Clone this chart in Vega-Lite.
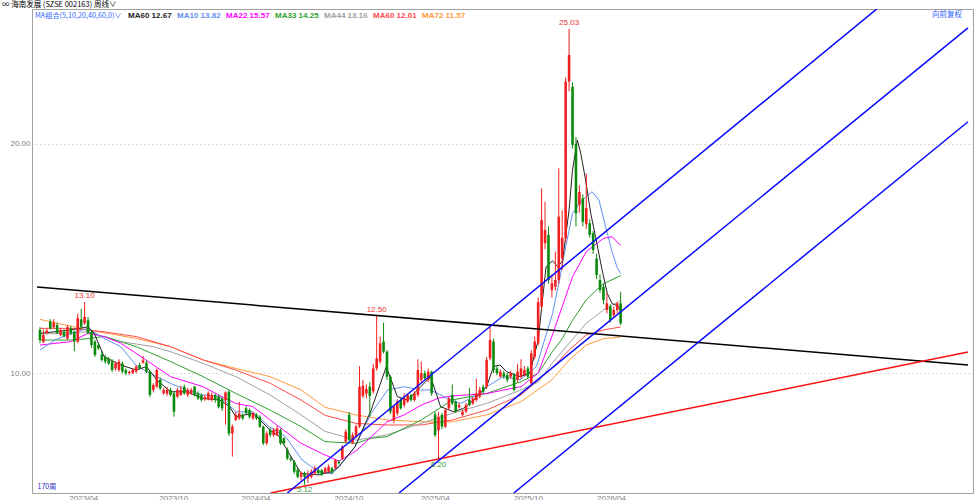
{
"$schema": "https://vega.github.io/schema/vega-lite/v6.json",
"width": 941, "height": 484,
"autosize": {"type": "none"},
"padding": {"left": 32, "top": 9, "right": 6, "bottom": 7},
"background": "#ffffff",
"config": {"view": {"stroke": "#a0a0a0", "strokeWidth": 1}, "font": "Liberation Sans",
"axisX": {"labelColor": "#808080", "labelFontSize": 8, "ticks": false, "domain": false, "grid": false, "labelPadding": 1, "labelAlign": "left", "labelFlush": false, "labelOverlap": false},
"axisY": {"labelColor": "#808080", "labelFontSize": 8, "ticks": false, "domain": false, "grid": true, "gridColor": "#b8b8b8", "gridDash": [1, 3], "labelPadding": 2}},
"title": {"text": "∞ 海南发展   (SZSE 002163)    周线∨", "anchor": "start", "frame": "group", "dx": -30, "offset": 0.5, "fontSize": 7.5, "font": "Noto Sans CJK SC", "fontWeight": "normal", "color": "#000000"},
"datasets": {
"candles": [
{"i":0,"o":11.88,"h":12.0,"l":11.3,"c":11.44},{"i":1,"o":11.35,"h":11.9,"l":11.3,"c":11.66},{"i":2,"o":11.75,"h":11.95,"l":11.7,"c":11.85},{"i":3,"o":12.24,"h":12.35,"l":11.9,"c":11.95},{"i":4,"o":12.0,"h":12.35,"l":11.95,"c":12.2},{"i":5,"o":12.1,"h":12.2,"l":11.7,"c":11.75},{"i":6,"o":11.66,"h":11.95,"l":11.6,"c":11.88},{"i":7,"o":11.8,"h":11.9,"l":11.55,"c":11.6},{"i":8,"o":11.5,"h":12.1,"l":11.45,"c":12.0},{"i":9,"o":11.95,"h":12.05,"l":11.65,"c":11.73},
{"i":10,"o":11.8,"h":11.85,"l":10.95,"c":11.37},{"i":11,"o":11.37,"h":12.6,"l":11.3,"c":12.4},{"i":12,"o":12.34,"h":12.8,"l":11.95,"c":12.02},{"i":13,"o":12.17,"h":13.1,"l":12.1,"c":12.45},{"i":14,"o":12.3,"h":12.45,"l":11.7,"c":11.73},{"i":15,"o":11.8,"h":11.85,"l":11.1,"c":11.22},{"i":16,"o":11.37,"h":11.45,"l":10.7,"c":10.79},{"i":17,"o":11.22,"h":11.3,"l":11.0,"c":11.08},{"i":18,"o":10.8,"h":10.95,"l":10.5,"c":10.57},{"i":19,"o":10.7,"h":10.8,"l":10.4,"c":10.5},
{"i":20,"o":10.62,"h":10.7,"l":10.35,"c":10.42},{"i":21,"o":10.5,"h":10.6,"l":10.05,"c":10.13},{"i":22,"o":10.2,"h":10.5,"l":10.1,"c":10.42},{"i":23,"o":10.13,"h":10.6,"l":10.05,"c":10.5},{"i":24,"o":10.42,"h":10.5,"l":9.98,"c":10.06},{"i":25,"o":10.13,"h":10.2,"l":9.9,"c":9.99},{"i":26,"o":10.0,"h":10.1,"l":9.92,"c":10.05},{"i":27,"o":10.0,"h":10.2,"l":9.95,"c":10.13},{"i":28,"o":10.06,"h":10.35,"l":10.0,"c":10.28},{"i":29,"o":10.35,"h":10.45,"l":10.15,"c":10.2},
{"i":30,"o":10.45,"h":10.75,"l":10.4,"c":10.55},{"i":31,"o":10.45,"h":10.55,"l":10.0,"c":10.06},{"i":32,"o":10.06,"h":10.1,"l":8.95,"c":9.04},{"i":33,"o":9.26,"h":9.55,"l":9.15,"c":9.48},{"i":34,"o":9.4,"h":10.2,"l":9.35,"c":10.13},{"i":35,"o":9.7,"h":9.8,"l":9.25,"c":9.33},{"i":36,"o":9.11,"h":9.35,"l":9.05,"c":9.26},{"i":37,"o":9.1,"h":9.4,"l":9.0,"c":9.26},{"i":38,"o":9.26,"h":9.35,"l":8.98,"c":9.04},{"i":39,"o":9.11,"h":9.2,"l":8.09,"c":8.31},
{"i":40,"o":8.97,"h":9.35,"l":8.9,"c":9.26},{"i":41,"o":9.04,"h":9.45,"l":9.0,"c":9.26},{"i":42,"o":9.4,"h":9.5,"l":9.05,"c":9.11},{"i":43,"o":9.04,"h":9.35,"l":8.95,"c":9.26},{"i":44,"o":9.11,"h":9.35,"l":9.05,"c":9.26},{"i":45,"o":9.4,"h":9.45,"l":8.98,"c":9.04},{"i":46,"o":9.11,"h":9.2,"l":8.82,"c":8.89},{"i":47,"o":9.04,"h":9.1,"l":8.75,"c":8.82},{"i":48,"o":8.85,"h":9.05,"l":8.78,"c":8.95},{"i":49,"o":8.85,"h":9.2,"l":8.8,"c":9.11},
{"i":50,"o":8.82,"h":9.15,"l":8.75,"c":9.04},{"i":51,"o":9.04,"h":9.1,"l":8.7,"c":8.82},{"i":52,"o":8.97,"h":9.05,"l":8.45,"c":8.53},{"i":53,"o":8.89,"h":8.95,"l":8.35,"c":8.46},{"i":54,"o":8.8,"h":9.2,"l":7.75,"c":9.15},{"i":55,"o":9.18,"h":9.25,"l":7.25,"c":7.36},{"i":56,"o":7.36,"h":7.75,"l":6.35,"c":7.66},{"i":57,"o":7.95,"h":8.3,"l":7.9,"c":8.17},{"i":58,"o":8.02,"h":8.75,"l":7.95,"c":8.24},{"i":59,"o":8.17,"h":8.25,"l":7.95,"c":8.02},
{"i":60,"o":8.46,"h":8.55,"l":8.2,"c":8.24},{"i":61,"o":8.38,"h":8.45,"l":8.0,"c":8.09},{"i":62,"o":8.02,"h":8.3,"l":7.95,"c":8.24},{"i":63,"o":8.17,"h":8.25,"l":7.95,"c":8.02},{"i":64,"o":8.09,"h":8.15,"l":7.6,"c":7.66},{"i":65,"o":7.66,"h":7.7,"l":6.85,"c":6.93},{"i":66,"o":6.93,"h":7.45,"l":6.85,"c":7.36},{"i":67,"o":7.51,"h":7.6,"l":7.2,"c":7.29},{"i":68,"o":7.29,"h":7.6,"l":7.2,"c":7.51},{"i":69,"o":7.29,"h":7.7,"l":7.25,"c":7.58},
{"i":70,"o":7.51,"h":7.58,"l":6.85,"c":6.93},{"i":71,"o":7.15,"h":7.2,"l":6.85,"c":6.93},{"i":72,"o":6.64,"h":6.75,"l":6.2,"c":6.27},{"i":73,"o":6.27,"h":6.35,"l":6.13,"c":6.2},{"i":74,"o":6.13,"h":6.2,"l":5.6,"c":5.69},{"i":75,"o":5.76,"h":5.85,"l":5.4,"c":5.47},{"i":76,"o":5.47,"h":5.7,"l":5.3,"c":5.62},{"i":77,"o":5.62,"h":5.7,"l":5.12,"c":5.47},{"i":78,"o":5.4,"h":5.75,"l":5.2,"c":5.55},{"i":79,"o":5.47,"h":5.8,"l":5.4,"c":5.69},
{"i":80,"o":5.62,"h":5.95,"l":5.55,"c":5.84},{"i":81,"o":5.76,"h":5.85,"l":5.55,"c":5.62},{"i":82,"o":5.76,"h":5.8,"l":5.5,"c":5.55},{"i":83,"o":5.64,"h":5.9,"l":5.6,"c":5.84},{"i":84,"o":5.69,"h":6.0,"l":5.65,"c":5.91},{"i":85,"o":5.84,"h":5.9,"l":5.6,"c":5.65},{"i":86,"o":5.84,"h":6.25,"l":5.8,"c":6.2},{"i":87,"o":6.13,"h":6.2,"l":6.0,"c":6.06},{"i":88,"o":6.27,"h":6.85,"l":6.2,"c":6.78},{"i":89,"o":7.0,"h":7.55,"l":6.95,"c":7.44},
{"i":90,"o":8.17,"h":8.3,"l":7.0,"c":7.07},{"i":91,"o":6.93,"h":7.4,"l":6.9,"c":7.29},{"i":92,"o":7.22,"h":7.75,"l":7.15,"c":7.66},{"i":93,"o":7.66,"h":10.3,"l":7.6,"c":9.4},{"i":94,"o":9.0,"h":9.7,"l":8.9,"c":9.45},{"i":95,"o":9.1,"h":9.5,"l":8.9,"c":9.3},{"i":96,"o":9.4,"h":9.6,"l":8.1,"c":9.0},{"i":97,"o":9.2,"h":10.4,"l":9.1,"c":10.2},{"i":98,"o":10.2,"h":12.5,"l":10.1,"c":10.64},{"i":99,"o":10.5,"h":11.6,"l":10.4,"c":11.3},
{"i":100,"o":11.37,"h":12.2,"l":10.85,"c":10.93},{"i":101,"o":10.93,"h":11.0,"l":9.7,"c":9.84},{"i":102,"o":9.84,"h":9.9,"l":8.2,"c":8.31},{"i":103,"o":7.95,"h":8.6,"l":7.8,"c":8.53},{"i":104,"o":8.24,"h":8.85,"l":8.15,"c":8.75},{"i":105,"o":8.82,"h":8.9,"l":8.4,"c":8.46},{"i":106,"o":8.6,"h":9.11,"l":8.5,"c":8.89},{"i":107,"o":8.75,"h":9.1,"l":8.7,"c":9.04},{"i":108,"o":9.04,"h":9.1,"l":8.75,"c":8.82},{"i":109,"o":8.82,"h":9.2,"l":8.75,"c":9.11},
{"i":110,"o":9.04,"h":10.6,"l":8.95,"c":10.13},{"i":111,"o":9.7,"h":10.5,"l":9.6,"c":9.99},{"i":112,"o":9.99,"h":10.1,"l":9.7,"c":9.77},{"i":113,"o":9.7,"h":10.2,"l":9.6,"c":10.06},{"i":114,"o":10.06,"h":10.1,"l":9.0,"c":9.11},{"i":115,"o":8.2,"h":8.3,"l":7.2,"c":7.29},{"i":116,"o":7.5,"h":8.3,"l":6.2,"c":8.09},{"i":117,"o":8.17,"h":8.25,"l":7.55,"c":7.66},{"i":118,"o":7.66,"h":8.45,"l":7.6,"c":8.38},{"i":119,"o":8.46,"h":8.95,"l":8.4,"c":8.89},
{"i":120,"o":9.04,"h":9.5,"l":8.6,"c":8.67},{"i":121,"o":8.75,"h":8.8,"l":8.25,"c":8.31},{"i":122,"o":8.5,"h":8.7,"l":8.45,"c":8.6},{"i":123,"o":8.17,"h":8.4,"l":8.1,"c":8.31},{"i":124,"o":8.31,"h":8.7,"l":8.25,"c":8.6},{"i":125,"o":8.82,"h":9.35,"l":8.55,"c":8.6},{"i":126,"o":8.67,"h":8.95,"l":8.6,"c":8.89},{"i":127,"o":8.82,"h":9.75,"l":8.75,"c":9.11},{"i":128,"o":8.97,"h":9.4,"l":8.9,"c":9.26},{"i":129,"o":9.4,"h":9.5,"l":9.1,"c":9.18},
{"i":130,"o":9.4,"h":10.7,"l":9.3,"c":10.57},{"i":131,"o":10.64,"h":12.02,"l":10.55,"c":11.44},{"i":132,"o":11.37,"h":11.5,"l":10.0,"c":10.13},{"i":133,"o":10.2,"h":10.3,"l":9.9,"c":9.99},{"i":134,"o":9.84,"h":10.15,"l":9.8,"c":10.06},{"i":135,"o":9.99,"h":10.1,"l":9.75,"c":9.84},{"i":136,"o":9.91,"h":10.0,"l":9.6,"c":9.7},{"i":137,"o":9.84,"h":10.1,"l":9.75,"c":9.99},{"i":138,"o":9.91,"h":10.0,"l":9.2,"c":9.26},{"i":139,"o":9.7,"h":10.4,"l":9.6,"c":10.06},
{"i":140,"o":9.84,"h":10.6,"l":9.75,"c":10.2},{"i":141,"o":9.91,"h":10.3,"l":9.85,"c":10.13},{"i":142,"o":10.2,"h":10.3,"l":9.75,"c":9.84},{"i":143,"o":9.55,"h":11.0,"l":9.5,"c":10.86},{"i":144,"o":10.71,"h":11.6,"l":10.6,"c":11.37},{"i":145,"o":11.3,"h":13.3,"l":11.2,"c":13.1},{"i":146,"o":12.9,"h":18.06,"l":12.8,"c":16.68},{"i":147,"o":15.67,"h":17.48,"l":15.4,"c":16.25},{"i":148,"o":16.03,"h":16.4,"l":13.9,"c":14.06},{"i":149,"o":13.62,"h":14.3,"l":13.3,"c":13.92},
{"i":150,"o":13.77,"h":15.3,"l":13.6,"c":14.06},{"i":151,"o":14.06,"h":18.94,"l":13.9,"c":16.83},{"i":152,"o":15.0,"h":17.1,"l":14.5,"c":15.9},{"i":153,"o":15.88,"h":22.9,"l":15.7,"c":22.72},{"i":154,"o":22.72,"h":25.03,"l":22.3,"c":23.89},{"i":155,"o":22.5,"h":22.7,"l":19.8,"c":19.96},{"i":156,"o":20.0,"h":20.3,"l":16.4,"c":16.97},{"i":157,"o":17.34,"h":18.2,"l":17.0,"c":17.9},{"i":158,"o":17.63,"h":17.8,"l":16.4,"c":16.6},{"i":159,"o":16.5,"h":18.7,"l":16.3,"c":17.2},
{"i":160,"o":16.54,"h":16.7,"l":15.9,"c":16.03},{"i":161,"o":16.1,"h":16.2,"l":15.2,"c":15.37},{"i":162,"o":15.0,"h":15.2,"l":14.1,"c":14.28},{"i":163,"o":14.06,"h":14.3,"l":13.5,"c":13.62},{"i":164,"o":13.77,"h":13.9,"l":13.0,"c":13.19},{"i":165,"o":12.75,"h":13.5,"l":12.6,"c":13.04},{"i":166,"o":12.9,"h":13.0,"l":12.2,"c":12.32},{"i":167,"o":12.53,"h":12.9,"l":12.4,"c":12.75},{"i":168,"o":12.75,"h":13.1,"l":12.6,"c":13.04},{"i":169,"o":13.04,"h":13.55,"l":12.1,"c":12.17}
],
"ma": [
{"ma":"MA72","i":0,"v":12.34},{"ma":"MA72","i":14,"v":11.88},{"ma":"MA72","i":28,"v":11.51},{"ma":"MA72","i":38,"v":11.15},{"ma":"MA72","i":47.5,"v":10.57},{"ma":"MA72","i":57,"v":10.2},{"ma":"MA72","i":67,"v":9.84},{"ma":"MA72","i":76,"v":9.26},{"ma":"MA72","i":83,"v":8.5},{"ma":"MA72","i":92,"v":8.17},{"ma":"MA72","i":101,"v":7.95},{"ma":"MA72","i":111,"v":7.87},{"ma":"MA72","i":120,"v":7.87},{"ma":"MA72","i":130,"v":8.17},{"ma":"MA72","i":140,"v":8.75},{"ma":"MA72","i":149,"v":9.7},{"ma":"MA72","i":154,"v":10.57},{"ma":"MA72","i":159,"v":11.22},{"ma":"MA72","i":164,"v":11.5},{"ma":"MA72","i":169,"v":11.57},
{"ma":"MA60","i":0,"v":11.95},{"ma":"MA60","i":9,"v":11.95},{"ma":"MA60","i":18.7,"v":11.8},{"ma":"MA60","i":28,"v":11.59},{"ma":"MA60","i":38,"v":11.15},{"ma":"MA60","i":47.5,"v":10.57},{"ma":"MA60","i":57,"v":10.13},{"ma":"MA60","i":67,"v":9.55},{"ma":"MA60","i":76,"v":8.82},{"ma":"MA60","i":83,"v":8.15},{"ma":"MA60","i":92,"v":7.8},{"ma":"MA60","i":101,"v":7.73},{"ma":"MA60","i":111,"v":7.73},{"ma":"MA60","i":120,"v":7.95},{"ma":"MA60","i":130,"v":8.38},{"ma":"MA60","i":140,"v":9.04},{"ma":"MA60","i":149,"v":10.2},{"ma":"MA60","i":154,"v":11.0},{"ma":"MA60","i":159,"v":11.66},{"ma":"MA60","i":164,"v":11.88},{"ma":"MA60","i":169,"v":12.01},
{"ma":"MA44","i":0,"v":11.7},{"ma":"MA44","i":9,"v":11.75},{"ma":"MA44","i":14,"v":11.8},{"ma":"MA44","i":23.5,"v":11.37},{"ma":"MA44","i":33,"v":11.15},{"ma":"MA44","i":38,"v":10.93},{"ma":"MA44","i":47.5,"v":10.42},{"ma":"MA44","i":57,"v":9.84},{"ma":"MA44","i":67,"v":9.04},{"ma":"MA44","i":76,"v":8.17},{"ma":"MA44","i":83,"v":7.45},{"ma":"MA44","i":92,"v":7.07},{"ma":"MA44","i":101,"v":7.3},{"ma":"MA44","i":111,"v":7.8},{"ma":"MA44","i":120,"v":8.24},{"ma":"MA44","i":130,"v":8.67},{"ma":"MA44","i":140,"v":9.26},{"ma":"MA44","i":145,"v":9.6},{"ma":"MA44","i":149,"v":10.42},{"ma":"MA44","i":154,"v":11.3},{"ma":"MA44","i":159,"v":12.17},{"ma":"MA44","i":164,"v":12.75},{"ma":"MA44","i":169,"v":13.16},
{"ma":"MA33","i":0,"v":11.44},{"ma":"MA33","i":9,"v":11.44},{"ma":"MA33","i":14,"v":11.5},{"ma":"MA33","i":18.7,"v":11.6},{"ma":"MA33","i":28,"v":11.15},{"ma":"MA33","i":38,"v":10.5},{"ma":"MA33","i":47.5,"v":9.84},{"ma":"MA33","i":57,"v":9.11},{"ma":"MA33","i":67,"v":8.38},{"ma":"MA33","i":76,"v":7.66},{"ma":"MA33","i":83,"v":7.0},{"ma":"MA33","i":92,"v":6.93},{"ma":"MA33","i":96.4,"v":7.15},{"ma":"MA33","i":101,"v":7.22},{"ma":"MA33","i":111,"v":7.95},{"ma":"MA33","i":120,"v":8.82},{"ma":"MA33","i":130,"v":9.11},{"ma":"MA33","i":140,"v":9.62},{"ma":"MA33","i":145,"v":9.99},{"ma":"MA33","i":149,"v":10.9},{"ma":"MA33","i":152,"v":11.5},{"ma":"MA33","i":155,"v":12.3},{"ma":"MA33","i":159,"v":13.2},{"ma":"MA33","i":164,"v":13.9},{"ma":"MA33","i":169,"v":14.25},
{"ma":"MA22","i":0,"v":11.22},{"ma":"MA22","i":9,"v":11.37},{"ma":"MA22","i":14,"v":11.73},{"ma":"MA22","i":18.7,"v":11.59},{"ma":"MA22","i":23.5,"v":11.3},{"ma":"MA22","i":28,"v":10.86},{"ma":"MA22","i":38,"v":9.84},{"ma":"MA22","i":47.5,"v":9.4},{"ma":"MA22","i":52,"v":9.04},{"ma":"MA22","i":57,"v":8.67},{"ma":"MA22","i":62,"v":8.53},{"ma":"MA22","i":67,"v":7.95},{"ma":"MA22","i":76,"v":6.93},{"ma":"MA22","i":82,"v":6.49},{"ma":"MA22","i":87,"v":6.15},{"ma":"MA22","i":92,"v":6.6},{"ma":"MA22","i":96.4,"v":7.2},{"ma":"MA22","i":101,"v":7.87},{"ma":"MA22","i":106,"v":8.17},{"ma":"MA22","i":111,"v":8.6},{"ma":"MA22","i":116,"v":8.9},{"ma":"MA22","i":120,"v":9.0},{"ma":"MA22","i":130,"v":9.1},{"ma":"MA22","i":135,"v":9.26},{"ma":"MA22","i":140,"v":9.4},{"ma":"MA22","i":145,"v":10.0},{"ma":"MA22","i":149,"v":11.6},{"ma":"MA22","i":152,"v":12.9},{"ma":"MA22","i":155,"v":14.2},{"ma":"MA22","i":159,"v":15.3},{"ma":"MA22","i":164,"v":15.88},{"ma":"MA22","i":166.5,"v":15.95},{"ma":"MA22","i":169,"v":15.57},
{"ma":"MA10","i":0,"v":11.0},{"ma":"MA10","i":4.3,"v":11.44},{"ma":"MA10","i":9.1,"v":11.73},{"ma":"MA10","i":13.9,"v":11.95},{"ma":"MA10","i":18.7,"v":11.51},{"ma":"MA10","i":23.5,"v":11.15},{"ma":"MA10","i":28.3,"v":10.28},{"ma":"MA10","i":33.1,"v":9.91},{"ma":"MA10","i":37.9,"v":9.55},{"ma":"MA10","i":42.7,"v":9.26},{"ma":"MA10","i":47.5,"v":9.04},{"ma":"MA10","i":52.3,"v":8.97},{"ma":"MA10","i":57.1,"v":8.31},{"ma":"MA10","i":61.9,"v":8.31},{"ma":"MA10","i":66.7,"v":7.66},{"ma":"MA10","i":71.5,"v":7.22},{"ma":"MA10","i":76.3,"v":6.2},{"ma":"MA10","i":81.1,"v":5.69},{"ma":"MA10","i":85,"v":5.6},{"ma":"MA10","i":87,"v":5.9},{"ma":"MA10","i":91.7,"v":6.78},{"ma":"MA10","i":96.4,"v":8.24},{"ma":"MA10","i":101.2,"v":9.26},{"ma":"MA10","i":106,"v":9.4},{"ma":"MA10","i":110.8,"v":9.26},{"ma":"MA10","i":113.7,"v":9.26},{"ma":"MA10","i":118.6,"v":8.89},{"ma":"MA10","i":122.4,"v":8.67},{"ma":"MA10","i":128.1,"v":9.11},{"ma":"MA10","i":130,"v":9.4},{"ma":"MA10","i":134.9,"v":9.84},{"ma":"MA10","i":139.7,"v":9.7},{"ma":"MA10","i":144.5,"v":10.28},{"ma":"MA10","i":149.2,"v":12.6},{"ma":"MA10","i":151.2,"v":14.06},{"ma":"MA10","i":153,"v":15.5},{"ma":"MA10","i":155,"v":16.97},{"ma":"MA10","i":157,"v":17.4},{"ma":"MA10","i":159,"v":17.7},{"ma":"MA10","i":160.7,"v":17.92},{"ma":"MA10","i":162.7,"v":17.55},{"ma":"MA10","i":164.6,"v":16.4},{"ma":"MA10","i":166.5,"v":15.3},{"ma":"MA10","i":168,"v":14.6},{"ma":"MA10","i":169,"v":14.35},
{"ma":"MA5","i":0,"v":11.73},{"ma":"MA5","i":9,"v":11.88},{"ma":"MA5","i":14,"v":12.02},{"ma":"MA5","i":15.8,"v":11.73},{"ma":"MA5","i":18.7,"v":10.71},{"ma":"MA5","i":23.5,"v":10.35},{"ma":"MA5","i":28,"v":10.13},{"ma":"MA5","i":31,"v":10.28},{"ma":"MA5","i":34,"v":9.7},{"ma":"MA5","i":38,"v":9.18},{"ma":"MA5","i":42.7,"v":9.18},{"ma":"MA5","i":47.5,"v":8.89},{"ma":"MA5","i":52.3,"v":8.82},{"ma":"MA5","i":55.2,"v":8.53},{"ma":"MA5","i":57,"v":8.09},{"ma":"MA5","i":62,"v":8.24},{"ma":"MA5","i":67,"v":7.51},{"ma":"MA5","i":69.6,"v":7.22},{"ma":"MA5","i":72.5,"v":6.49},{"ma":"MA5","i":76,"v":5.62},{"ma":"MA5","i":81,"v":5.55},{"ma":"MA5","i":85,"v":5.69},{"ma":"MA5","i":87,"v":5.91},{"ma":"MA5","i":91.7,"v":6.78},{"ma":"MA5","i":96.4,"v":8.38},{"ma":"MA5","i":100.8,"v":10.28},{"ma":"MA5","i":104,"v":8.97},{"ma":"MA5","i":107,"v":8.82},{"ma":"MA5","i":110.8,"v":9.4},{"ma":"MA5","i":113.7,"v":9.84},{"ma":"MA5","i":116.6,"v":8.53},{"ma":"MA5","i":120.4,"v":8.31},{"ma":"MA5","i":123.3,"v":8.46},{"ma":"MA5","i":126.2,"v":8.82},{"ma":"MA5","i":130,"v":9.4},{"ma":"MA5","i":132,"v":10.28},{"ma":"MA5","i":133.9,"v":10.35},{"ma":"MA5","i":135.8,"v":10.06},{"ma":"MA5","i":139.7,"v":9.84},{"ma":"MA5","i":142.6,"v":9.99},{"ma":"MA5","i":145,"v":11.44},{"ma":"MA5","i":147.3,"v":14.64},{"ma":"MA5","i":149.2,"v":14.9},{"ma":"MA5","i":150.7,"v":14.64},{"ma":"MA5","i":152.1,"v":14.9},{"ma":"MA5","i":154,"v":17.12},{"ma":"MA5","i":155,"v":18.87},{"ma":"MA5","i":156.4,"v":20.17},{"ma":"MA5","i":157.4,"v":19.59},{"ma":"MA5","i":158.8,"v":18.43},{"ma":"MA5","i":160.3,"v":16.97},{"ma":"MA5","i":161.7,"v":15.95},{"ma":"MA5","i":163.6,"v":14.5},{"ma":"MA5","i":165.1,"v":13.48},{"ma":"MA5","i":166.5,"v":13.04},{"ma":"MA5","i":168.4,"v":12.9},{"ma":"MA5","i":169,"v":12.67}
],
"trend": [
{"line":"black","i":-0.86,"p":13.755},{"line":"black","i":270.1,"p":10.35},
{"line":"red","i":67.1,"p":4.76},{"line":"red","i":270.1,"p":10.917},
{"line":"blue1","i":72.0,"p":4.76},{"line":"blue1","i":243.9,"p":25.94},
{"line":"blue2","i":104.5,"p":4.76},{"line":"blue2","i":270.1,"p":25.07},
{"line":"blue3","i":137.9,"p":4.76},{"line":"blue3","i":270.1,"p":20.97}
],
"notes": [
{"i":13,"p":13.10,"label":"13.10","kind":"high"},
{"i":98,"p":12.50,"label":"12.50","kind":"high"},
{"i":154,"p":25.03,"label":"25.03","kind":"high"},
{"i":77,"p":5.12,"label":"5.12","kind":"low"},
{"i":116,"p":6.20,"label":"6.20","kind":"low"}
]
},
"layer": [
{
"data": {"name": "ma"},
"mark": {"type": "line", "strokeWidth": 1, "clip": true},
"encoding": {
"x": {"field": "i", "type": "quantitative", "scale": {"domain": [-0.86, 270.1], "nice": false, "zero": false},
"axis": {"values": [8.4, 34.6, 58.5, 85.6, 110.7, 137.8, 162.0], "labelExpr": "datum.value < 20 ? '2023/04' : datum.value < 45 ? '2023/10' : datum.value < 70 ? '2024/04' : datum.value < 100 ? '2024/10' : datum.value < 120 ? '2025/04' : datum.value < 150 ? '2025/10' : '2026/04'", "title": null}},
"y": {"field": "v", "type": "quantitative", "scale": {"domain": [4.76, 25.895], "nice": false, "zero": false},
"axis": {"values": [10, 20], "format": ".2f", "title": null}},
"color": {"field": "ma", "type": "nominal",
"scale": {"domain": ["MA5", "MA10", "MA22", "MA33", "MA44", "MA60", "MA72"], "range": ["#222222", "#5f8ff0", "#ff00ff", "#2f9f2f", "#a0a0a0", "#ff4a4a", "#ff9a3a"]},
"legend": {"orient": "none", "legendX": 3, "legendY": 3, "direction": "horizontal", "title": "MA组合(5,10,20,40,60,0)∨", "titleOrient": "left", "titleColor": "#3366ff", "titleFontWeight": "normal", "titleFontSize": 7.2, "titleFont": "Noto Sans CJK SC", "titlePadding": 6, "titleBaseline": "middle", "labelFontSize": 8, "labelFont": "Liberation Sans", "labelFontWeight": "bold",
"labelExpr": "datum.label == 'MA5' ? 'MA60 12.67' : datum.label == 'MA10' ? 'MA10 13.82' : datum.label == 'MA22' ? 'MA22 15.57' : datum.label == 'MA33' ? 'MA33 14.25' : datum.label == 'MA44' ? 'MA44 13.16' : datum.label == 'MA60' ? 'MA60 12.01' : 'MA72 11.57'",
"labelColor": {"expr": "scale('color', datum.value)"}, "symbolSize": 0, "symbolStrokeWidth": 0, "symbolOpacity": 0, "labelOffset": -8, "columnPadding": 5, "padding": 0}}
}
},
{
"data": {"name": "candles"},
"mark": {"type": "rule", "strokeWidth": 1},
"encoding": {
"x": {"field": "i", "type": "quantitative", "scale": {"domain": [-0.86, 270.1], "nice": false, "zero": false},
"axis": {"values": [8.4, 34.6, 58.5, 85.6, 110.7, 137.8, 162.0], "labelExpr": "datum.value < 20 ? '2023/04' : datum.value < 45 ? '2023/10' : datum.value < 70 ? '2024/04' : datum.value < 100 ? '2024/10' : datum.value < 120 ? '2025/04' : datum.value < 150 ? '2025/10' : '2026/04'", "title": null}},
"y": {"field": "l", "type": "quantitative", "scale": {"domain": [4.76, 25.895], "nice": false, "zero": false}, "axis": {"values": [10, 20], "format": ".2f", "title": null}},
"y2": {"field": "h"},
"color": {"condition": {"test": "datum.c >= datum.o", "value": "#f22020"}, "value": "#0a8a0a"}
}
},
{
"data": {"name": "candles"},
"mark": {"type": "bar", "width": 2.6},
"encoding": {
"x": {"field": "i", "type": "quantitative", "scale": {"domain": [-0.86, 270.1], "nice": false, "zero": false},
"axis": {"values": [8.4, 34.6, 58.5, 85.6, 110.7, 137.8, 162.0], "labelExpr": "datum.value < 20 ? '2023/04' : datum.value < 45 ? '2023/10' : datum.value < 70 ? '2024/04' : datum.value < 100 ? '2024/10' : datum.value < 120 ? '2025/04' : datum.value < 150 ? '2025/10' : '2026/04'", "title": null}},
"y": {"field": "o", "type": "quantitative", "scale": {"domain": [4.76, 25.895], "nice": false, "zero": false}, "axis": {"values": [10, 20], "format": ".2f", "title": null}},
"y2": {"field": "c"},
"color": {"condition": {"test": "datum.c >= datum.o", "value": "#f22020"}, "value": "#0a8a0a"}
}
},
{
"data": {"name": "trend"},
"transform": [{"filter": "datum.line == 'black'"}],
"mark": {"type": "line", "color": "#000000", "strokeWidth": 1.5, "clip": true},
"encoding": {
"x": {"field": "i", "type": "quantitative", "scale": {"domain": [-0.86, 270.1], "nice": false, "zero": false},
"axis": {"values": [8.4, 34.6, 58.5, 85.6, 110.7, 137.8, 162.0], "labelExpr": "datum.value < 20 ? '2023/04' : datum.value < 45 ? '2023/10' : datum.value < 70 ? '2024/04' : datum.value < 100 ? '2024/10' : datum.value < 120 ? '2025/04' : datum.value < 150 ? '2025/10' : '2026/04'", "title": null}},
"y": {"field": "p", "type": "quantitative", "scale": {"domain": [4.76, 25.895], "nice": false, "zero": false}, "axis": {"values": [10, 20], "format": ".2f", "title": null}}
}
},
{
"data": {"name": "trend"},
"transform": [{"filter": "datum.line == 'red'"}],
"mark": {"type": "line", "color": "#ff1010", "strokeWidth": 1.5, "clip": true},
"encoding": {
"x": {"field": "i", "type": "quantitative", "scale": {"domain": [-0.86, 270.1], "nice": false, "zero": false},
"axis": {"values": [8.4, 34.6, 58.5, 85.6, 110.7, 137.8, 162.0], "labelExpr": "datum.value < 20 ? '2023/04' : datum.value < 45 ? '2023/10' : datum.value < 70 ? '2024/04' : datum.value < 100 ? '2024/10' : datum.value < 120 ? '2025/04' : datum.value < 150 ? '2025/10' : '2026/04'", "title": null}},
"y": {"field": "p", "type": "quantitative", "scale": {"domain": [4.76, 25.895], "nice": false, "zero": false}, "axis": {"values": [10, 20], "format": ".2f", "title": null}}
}
},
{
"data": {"name": "trend"},
"transform": [{"filter": "indexof(datum.line, 'blue') == 0"}],
"mark": {"type": "line", "color": "#0a0aff", "strokeWidth": 1.5, "clip": true},
"encoding": {
"x": {"field": "i", "type": "quantitative", "scale": {"domain": [-0.86, 270.1], "nice": false, "zero": false},
"axis": {"values": [8.4, 34.6, 58.5, 85.6, 110.7, 137.8, 162.0], "labelExpr": "datum.value < 20 ? '2023/04' : datum.value < 45 ? '2023/10' : datum.value < 70 ? '2024/04' : datum.value < 100 ? '2024/10' : datum.value < 120 ? '2025/04' : datum.value < 150 ? '2025/10' : '2026/04'", "title": null}},
"y": {"field": "p", "type": "quantitative", "scale": {"domain": [4.76, 25.895], "nice": false, "zero": false}, "axis": {"values": [10, 20], "format": ".2f", "title": null}},
"detail": {"field": "line", "type": "nominal"}
}
},
{
"data": {"name": "notes"},
"transform": [{"filter": "datum.kind == 'high'"}],
"mark": {"type": "text", "baseline": "bottom", "dy": -2, "fontSize": 8, "color": "#f03030"},
"encoding": {
"x": {"field": "i", "type": "quantitative", "scale": {"domain": [-0.86, 270.1], "nice": false, "zero": false},
"axis": {"values": [8.4, 34.6, 58.5, 85.6, 110.7, 137.8, 162.0], "labelExpr": "datum.value < 20 ? '2023/04' : datum.value < 45 ? '2023/10' : datum.value < 70 ? '2024/04' : datum.value < 100 ? '2024/10' : datum.value < 120 ? '2025/04' : datum.value < 150 ? '2025/10' : '2026/04'", "title": null}},
"y": {"field": "p", "type": "quantitative", "scale": {"domain": [4.76, 25.895], "nice": false, "zero": false}, "axis": {"values": [10, 20], "format": ".2f", "title": null}},
"text": {"field": "label"}
}
},
{
"data": {"name": "notes"},
"transform": [{"filter": "datum.kind == 'low'"}],
"mark": {"type": "text", "baseline": "top", "dy": 1, "fontSize": 8, "color": "#3aa03a"},
"encoding": {
"x": {"field": "i", "type": "quantitative", "scale": {"domain": [-0.86, 270.1], "nice": false, "zero": false},
"axis": {"values": [8.4, 34.6, 58.5, 85.6, 110.7, 137.8, 162.0], "labelExpr": "datum.value < 20 ? '2023/04' : datum.value < 45 ? '2023/10' : datum.value < 70 ? '2024/04' : datum.value < 100 ? '2024/10' : datum.value < 120 ? '2025/04' : datum.value < 150 ? '2025/10' : '2026/04'", "title": null}},
"y": {"field": "p", "type": "quantitative", "scale": {"domain": [4.76, 25.895], "nice": false, "zero": false}, "axis": {"values": [10, 20], "format": ".2f", "title": null}},
"text": {"field": "label"}
}
},
{
"data": {"values": [{"label": "向前复权", "i": 270.1, "p": 25.63}]},
"mark": {"type": "text", "align": "right", "baseline": "middle", "dx": -6, "fontSize": 7.5, "font": "Noto Sans CJK SC", "color": "#3366ff"},
"encoding": {
"x": {"field": "i", "type": "quantitative", "scale": {"domain": [-0.86, 270.1], "nice": false, "zero": false},
"axis": {"values": [8.4, 34.6, 58.5, 85.6, 110.7, 137.8, 162.0], "labelExpr": "datum.value < 20 ? '2023/04' : datum.value < 45 ? '2023/10' : datum.value < 70 ? '2024/04' : datum.value < 100 ? '2024/10' : datum.value < 120 ? '2025/04' : datum.value < 150 ? '2025/10' : '2026/04'", "title": null}},
"y": {"field": "p", "type": "quantitative", "scale": {"domain": [4.76, 25.895], "nice": false, "zero": false}, "axis": {"values": [10, 20], "format": ".2f", "title": null}},
"text": {"field": "label"}
}
},
{
"data": {"values": [{"label": "170周", "i": -0.86, "p": 5.02}]},
"mark": {"type": "text", "align": "left", "baseline": "middle", "dx": 0.5, "fontSize": 7, "font": "Noto Sans CJK SC", "color": "#2a2ac0"},
"encoding": {
"x": {"field": "i", "type": "quantitative", "scale": {"domain": [-0.86, 270.1], "nice": false, "zero": false},
"axis": {"values": [8.4, 34.6, 58.5, 85.6, 110.7, 137.8, 162.0], "labelExpr": "datum.value < 20 ? '2023/04' : datum.value < 45 ? '2023/10' : datum.value < 70 ? '2024/04' : datum.value < 100 ? '2024/10' : datum.value < 120 ? '2025/04' : datum.value < 150 ? '2025/10' : '2026/04'", "title": null}},
"y": {"field": "p", "type": "quantitative", "scale": {"domain": [4.76, 25.895], "nice": false, "zero": false}, "axis": {"values": [10, 20], "format": ".2f", "title": null}},
"text": {"field": "label"}
}
}
]
}
